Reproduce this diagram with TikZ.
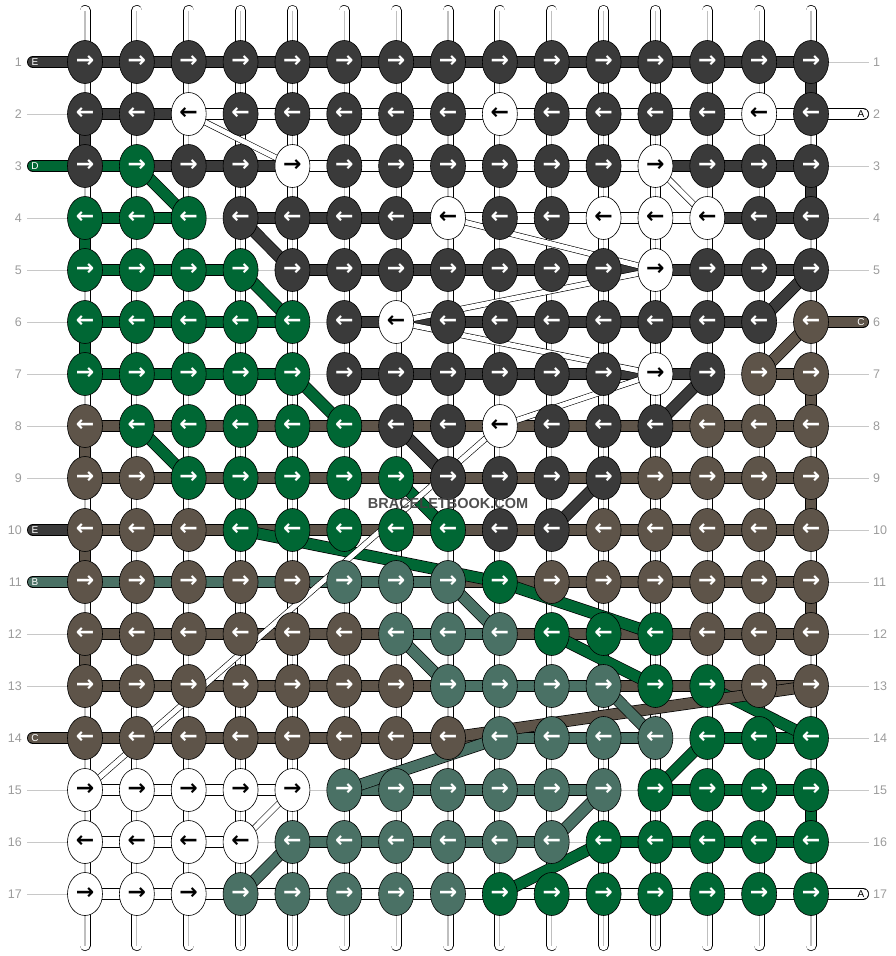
\documentclass[tikz,border=0pt]{standalone}
\usepackage{fontspec}
\setmainfont{Liberation Sans}
\newfontfamily\arrowfont{DejaVu Sans}
\usetikzlibrary{shapes.geometric}
\definecolor{cK}{RGB}{58,58,58}
\definecolor{cW}{RGB}{255,255,255}
\definecolor{cG}{RGB}{0,103,52}
\definecolor{cB}{RGB}{94,84,73}
\definecolor{cT}{RGB}{74,113,101}
\definecolor{LabelGray}{RGB}{155,155,155}
\definecolor{RuleGray}{RGB}{200,200,200}
\definecolor{MarkGray}{RGB}{64,64,64}
\pgfdeclarelayer{back}
\pgfdeclarelayer{mid}
\pgfsetlayers{back,mid,main}
\tikzset{
  knot/.style={ellipse, draw=black, line width=0.6pt, fill=#1, minimum width=35pt, minimum height=43pt, inner sep=0pt, font=\arrowfont\bfseries\fontsize{22}{22}\selectfont},
  band/.style={draw=black, double=#1, line width=0.7pt, double distance=10.6pt},
}
\tikzstyle{thread} = [draw=black, double=white, line width=0.6pt, double distance=5pt]
\tikzstyle{warp} = [draw=black, double=white, line width=0.7pt, double distance=9.6pt, line cap=round]
\tikzstyle{rowlabel} = [font=\fontsize{12.5}{12.5}\selectfont, text=LabelGray, inner sep=0pt]
\tikzstyle{tag} = [font=\fontsize{10}{10}\selectfont, inner sep=0pt]
\tikzstyle{markfont} = [font=\bfseries\fontsize{14.5}{14.5}\selectfont, inner sep=0pt]
\def\knotrows{
 1/{K,K,K,K,K,K,K,K,K,K,K,K,K,K,K}/{K,K,K,K,K,K,K,K,K,K,K,K,K,K},
 2/{K,K,W,K,K,K,K,K,W,K,K,K,K,W,K}/{K,K,W,W,W,W,W,W,W,W,W,W,W,W},
 3/{K,G,K,K,W,K,K,K,K,K,K,W,K,K,K}/{G,K,K,K,W,W,W,W,W,W,W,K,K,K},
 4/{G,G,G,K,K,K,K,W,K,K,W,W,W,K,K}/{G,G,N,K,K,K,K,W,W,W,W,W,K,K},
 5/{G,G,G,G,K,K,K,K,K,K,K,W,K,K,K}/{G,G,G,N,K,K,K,K,K,K,K,K,K,K},
 6/{G,G,G,G,G,K,W,K,K,K,K,K,K,K,B}/{G,G,G,G,N,K,K,K,K,K,K,K,K,N},
 7/{G,G,G,G,G,K,K,K,K,K,K,W,K,B,B}/{G,G,G,G,N,K,K,K,K,K,K,K,N,B},
 8/{B,G,G,G,G,G,K,K,W,K,K,K,B,B,B}/{B,B,B,B,B,B,B,B,B,B,B,B,B,B},
 9/{B,B,G,G,G,G,G,K,K,K,K,B,B,B,B}/{B,B,B,B,B,B,B,B,B,B,B,B,B,B},
 10/{B,B,B,G,G,G,G,G,K,K,B,B,B,B,B}/{B,B,B,B,B,B,B,B,B,B,B,B,B,B},
 11/{B,B,B,B,B,T,T,T,G,B,B,B,B,B,B}/{T,T,T,T,T,T,T,B,B,B,B,B,B,B},
 12/{B,B,B,B,B,B,T,T,T,G,G,G,B,B,B}/{B,B,B,B,B,B,T,T,B,B,B,B,B,B},
 13/{B,B,B,B,B,B,B,T,T,T,T,G,G,B,B}/{B,B,B,B,B,B,B,T,T,T,B,B,B,B},
 14/{B,B,B,B,B,B,B,B,T,T,T,T,G,G,G}/{B,B,B,B,B,B,B,B,T,T,T,N,G,G},
 15/{W,W,W,W,W,T,T,T,T,T,T,G,G,G,G}/{W,W,W,W,N,T,T,T,T,T,N,G,G,G},
 16/{W,W,W,W,T,T,T,T,T,T,G,G,G,G,G}/{W,W,W,N,T,T,T,T,T,N,G,G,G,G},
 17/{W,W,W,T,T,T,T,T,G,G,G,G,G,G,G}/{W,W,W,W,W,W,W,W,W,W,W,W,W,W}}
\begin{document}
\begin{tikzpicture}[x=1pt, y=-1pt]
\useasboundingbox (0,0) rectangle (896,956);

% warp strings
\begin{pgfonlayer}{back}
\foreach \c in {1,...,15} {
  \pgfmathsetmacro\xx{85+51.857*(\c-1)}
  \coordinate (top\c) at (\xx,10.5);
  \coordinate (bot\c) at (\xx,945.5);
  \draw[warp] (top\c) -- (bot\c);
  \draw[black!25, line width=1.2pt] (top\c) -- (bot\c);
}
\end{pgfonlayer}

% rows of knots and working threads
\foreach \r/\knots/\segs in \knotrows {
  \pgfmathsetmacro\yy{62+52*(\r-1)}
  \ifodd\r \def\arr{→}\else \def\arr{←}\fi
  \coordinate (lft\r) at (27,\yy);
  \coordinate (rgt\r) at (869,\yy);
  \begin{pgfonlayer}{back}
    \draw[RuleGray, line width=0.8pt] (lft\r) -- (rgt\r);
  \end{pgfonlayer}
  \node[rowlabel, anchor=east] (ll\r) at (22,\yy) {\r};
  \node[rowlabel, anchor=west] (rl\r) at (873,\yy) {\r};
  \foreach \k [count=\c] in \knots {
    \pgfmathsetmacro\xx{85+51.857*(\c-1)}
    \def\tc{white}\if\k W\def\tc{black}\fi
    \node[knot=c\k, text=\tc] (k\r-\c) at (\xx,\yy) {\arr};
  }
  \begin{pgfonlayer}{mid}
  \foreach \s [count=\c] in \segs {
    \pgfmathtruncatemacro\cn{\c+1}
    \if\s N\else
      \draw[band=c\s] (k\r-\c.center) -- (k\r-\cn.center);
    \fi
  }
  \end{pgfonlayer}
}

\begin{pgfonlayer}{mid}
% edge turns
\foreach \col/\c/\ra in {K/1/2, G/1/4, G/1/6, B/1/8, B/1/10, B/1/12,
                         K/15/1, K/15/3, B/15/7, B/15/9, B/15/11, G/15/15} {
  \pgfmathtruncatemacro\rb{\ra+1}
  \draw[band=c\col] (k\ra-\c.center) -- (k\rb-\c.center);
}
% loose ends
\foreach \r/\xt/\c/\col in {1/33/1/K, 2/863/15/W, 3/33/1/G, 6/863/15/B,
                            10/33/1/K, 11/33/1/T, 14/33/1/B, 17/863/15/W} {
  \pgfmathsetmacro\yy{62+52*(\r-1)}
  \coordinate (end\r) at (\xt,\yy);
  \draw[band=c\col, line cap=round] (end\r) -- (k\r-\c.center);
}
% threads moved across
\foreach \col/\ra/\ca/\rb/\cb in {G/3/2/4/3, G/5/4/6/5, G/7/5/8/6, G/8/2/9/3,
    G/9/7/10/8, G/10/4/11/9, G/11/9/12/12, G/12/10/13/12, G/13/13/14/15,
    G/14/13/15/12, G/17/9/16/11,
    K/4/4/5/5, K/8/7/9/8, K/5/15/6/14, K/7/13/8/12, K/10/10/9/11,
    B/7/14/6/15, B/14/8/13/15,
    T/11/8/12/9, T/12/7/13/8, T/13/11/14/12, T/15/6/14/9, T/16/10/15/11, T/17/4/16/5} {
  \draw[band=c\col] (k\ra-\ca.center) -- (k\rb-\cb.center);
}
\foreach \ra/\ca/\rb/\cb in {2/3/3/5, 3/12/4/13, 4/8/5/12, 6/7/5/12, 6/7/7/12,
    8/9/7/12, 8/9/15/1, 16/4/15/5} {
  \draw[thread] (k\ra-\ca.center) -- (k\rb-\cb.center);
}
\end{pgfonlayer}

% end letters
\foreach \r/\xl/\tc/\txt in {1/35/white/E, 2/861/black/A, 3/35/white/D, 6/861/white/C,
                             10/35/white/E, 11/35/white/B, 14/35/white/C, 17/861/black/A} {
  \pgfmathsetmacro\yy{62+52*(\r-1)}
  \node[tag, text=\tc] (tag\r) at (\xl,\yy) {\txt};
}

% watermark
\node[markfont, text=MarkGray, opacity=0.92] (mark) at (448,504) {BRACELETBOOK.COM};
\end{tikzpicture}
\end{document}
